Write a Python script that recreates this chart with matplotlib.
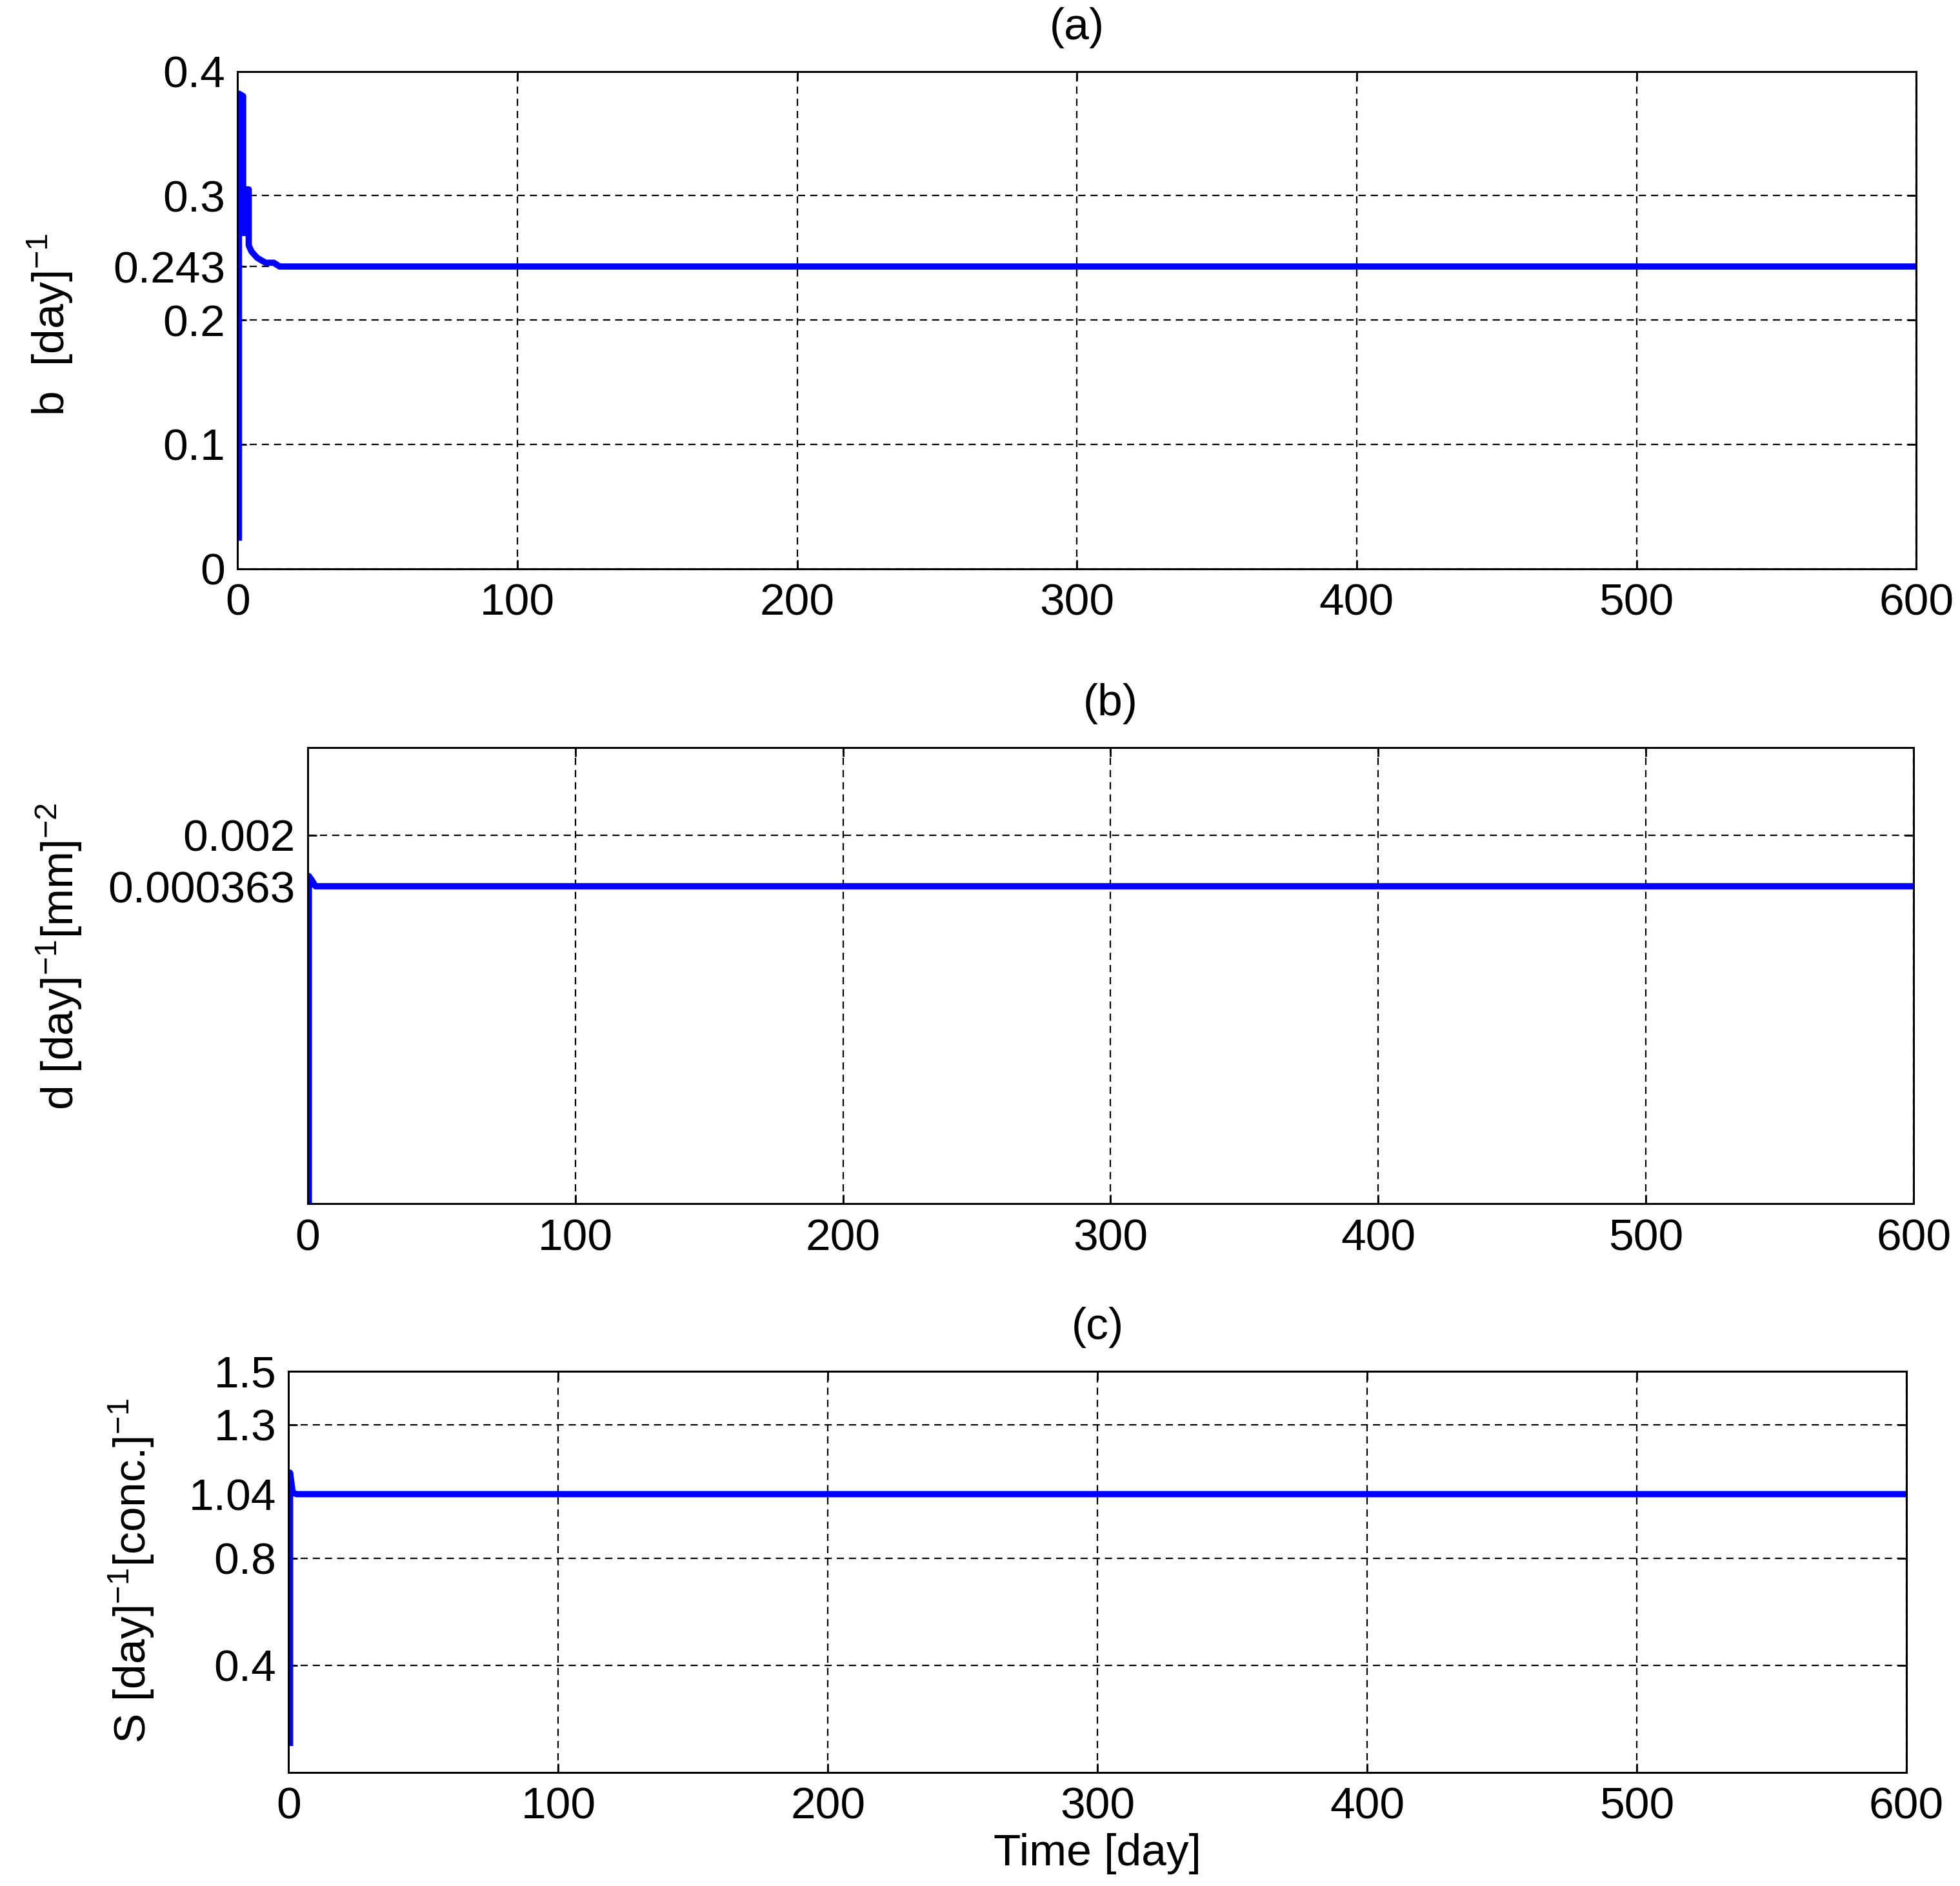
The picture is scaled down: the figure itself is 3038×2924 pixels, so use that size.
import matplotlib
matplotlib.use("Agg")
from matplotlib import pyplot as plt
from matplotlib.ticker import NullLocator
import numpy as np

plt.rcParams['font.family'] = ['Liberation Sans', 'DejaVu Sans']
plt.rcParams['mathtext.fontset'] = 'custom'
plt.rcParams['mathtext.rm'] = 'Liberation Sans'
plt.rcParams['mathtext.it'] = 'Liberation Sans'
plt.rcParams['axes.linewidth'] = 1.1

# (a) b [day]^-1
t_b = [0.5, 0.5, 2, 2, 3, 3, 4, 4, 5, 7, 10, 13, 15, 600]
b_vals = [0.025, 0.382, 0.38, 0.27, 0.27, 0.305, 0.305, 0.26, 0.255, 0.25, 0.246, 0.246, 0.243, 0.243]
b_ticks = [0, 0.1, 0.2, 0.243, 0.3, 0.4]
b_labels = ['0', '0.1', '0.2', '0.243', '0.3', '0.4']

# (b) d [day]^-1 [mm]^-2
t_d = [0.5, 0.5, 1.5, 3, 600]
d_vals = [1e-8, 0.00051, 0.00045, 0.000363, 0.000363]
d_ticks = [0.000363, 0.002]
d_labels = ['0.000363', '0.002']

# (c) S [day]^-1 [conc.]^-1
t_s = [0.5, 0.5, 1.5, 3, 600]
s_vals = [0.11, 1.12, 1.045, 1.04, 1.04]
s_ticks = [0.4, 0.8, 1.04, 1.3, 1.5]
s_labels = ['0.4', '0.8', '1.04', '1.3', '1.5']

x_ticks = [0, 100, 200, 300, 400, 500, 600]

fs = 25
fig = plt.figure(figsize=(3038 / 200, 2924 / 200), dpi=200)

ax1 = fig.add_axes([0.1212, 0.6985, 0.8565, 0.2637])
ax2 = fig.add_axes([0.1569, 0.3618, 0.8195, 0.2419])
ax3 = fig.add_axes([0.1473, 0.0603, 0.8253, 0.2127])

ax1.plot(t_b, b_vals, color='blue', lw=3.5)
ax1.set_ylim(0, 0.4)
ax1.set_yticks(b_ticks)
ax1.set_yticklabels(b_labels)

ax2.plot(t_d, d_vals, color='blue', lw=3.5)
ax2.set_yscale('log')
ax2.set_ylim(9.3e-9, 0.037)
ax2.set_yticks(d_ticks)
ax2.set_yticklabels(d_labels)
ax2.yaxis.set_minor_locator(NullLocator())

ax3.plot(t_s, s_vals, color='blue', lw=3.5)
ax3.set_ylim(0, 1.5)
ax3.set_yticks(s_ticks)
ax3.set_yticklabels(s_labels)

for ax, ttl in zip([ax1, ax2, ax3], ['(a)', '(b)', '(c)']):
    ax.set_xlim(0, 600)
    ax.set_xticks(x_ticks)
    ax.grid(True, color='black', linestyle=(0, (5, 3.5)), lw=0.8)
    ax.tick_params(direction='in', top=True, right=True, length=5, width=1,
                   labelsize=fs)
    ax.tick_params(axis='x', pad=8)
    ax.tick_params(axis='y', pad=7)
    ax.set_title(ttl, fontsize=fs, pad=18)

ax3.set_xlabel('Time [day]', fontsize=fs, labelpad=3)

fig.text(0.0255, 0.828, r'b  [day]$^{-1}$', rotation=90, ha='center', va='center', fontsize=fs)
fig.text(0.030, 0.493, r'd [day]$^{-1}$[mm]$^{-2}$', rotation=90, ha='center', va='center', fontsize=fs)
fig.text(0.067, 0.167, r'S [day]$^{-1}$[conc.]$^{-1}$', rotation=90, ha='center', va='center', fontsize=fs)

fig.savefig('out.png', dpi=200)
